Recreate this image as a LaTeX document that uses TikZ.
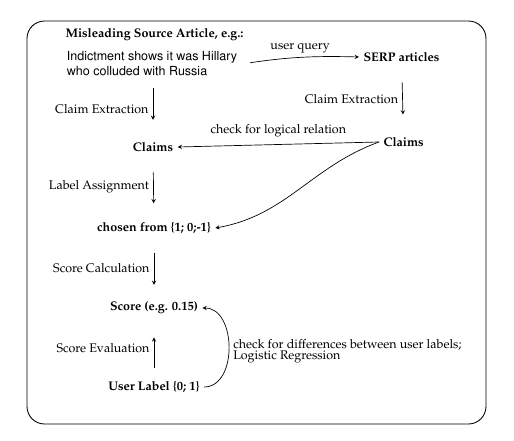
\documentclass[tikz,border=0pt]{standalone}
\usepackage[T1]{fontenc}
\usepackage{mathpazo}
\usepackage{tikz}
\usetikzlibrary{arrows,positioning}

\begin{document}
\begin{tikzpicture}[
    x=0.8pt, y=-0.8pt,
    >=stealth, line width=0.55pt,
    bnode/.style={font=\bfseries},
    flow/.style={->, shorten <=12pt, shorten >=12pt},
    lbl/.style={midway, left}
]
\useasboundingbox (0,0) rectangle (514,441);
\draw[line width=0.7pt, rounded corners=14pt] (27,21) rectangle (486,424);

\node[bnode, anchor=west] (head) at (61,35) {Misleading Source Article, e.g.:};
\node[align=left, font=\fontfamily{phv}\selectfont] (src) at (152,64) {Indictment shows it was Hillary\\who colluded with Russia};
\node[bnode, anchor=west] (serp) at (359,57) {SERP articles};
\node[bnode] (claimsL) at (153,147) {Claims};
\node[bnode, anchor=west] (claimsR) at (379,142) {Claims};
\node[bnode] (chosen) at (154,228) {chosen from \{1; 0;-1\}};
\node[bnode] (score) at (154,308) {Score (e.g. 0.15)};
\node[bnode] (user) at (154,387) {User Label \{0; 1\}};

\draw[flow, shorten <=5.6pt, shorten >=14.4pt] (src.south -| claimsL) -- node[lbl] {Claim Extraction} (claimsL);
\draw[flow, shorten <=13pt, shorten >=14.7pt] (serp) -- node[lbl] {Claim Extraction} (claimsR);
\draw[flow, shorten <=13pt, shorten >=11.7pt] (claimsL) -- node[lbl] {Label Assignment} (chosen);
\draw[flow, shorten <=11.7pt, shorten >=10pt] (chosen) -- node[lbl] {Score Calculation} (score);
\draw[flow, shorten <=7pt, shorten >=15pt] (user) -- node[lbl] {Score Evaluation} (score);

\draw[->, shorten <=6.8pt] (src.east) to[bend left=5] node[above] {user query} (serp.west);
\draw[->] (claimsR.west) -- node[above, yshift=2pt] {check for logical relation} (claimsL.east);
\draw[->] (claimsR.west) to[out=200, in=10] (chosen.east);
\draw[->] (user.east) to[out=0, in=0, looseness=1.1]
    node[right, align=left, yshift=-3pt] {check for differences between user labels;\\[-3.5pt]Logistic Regression} (score.east);
\end{tikzpicture}
\end{document}
